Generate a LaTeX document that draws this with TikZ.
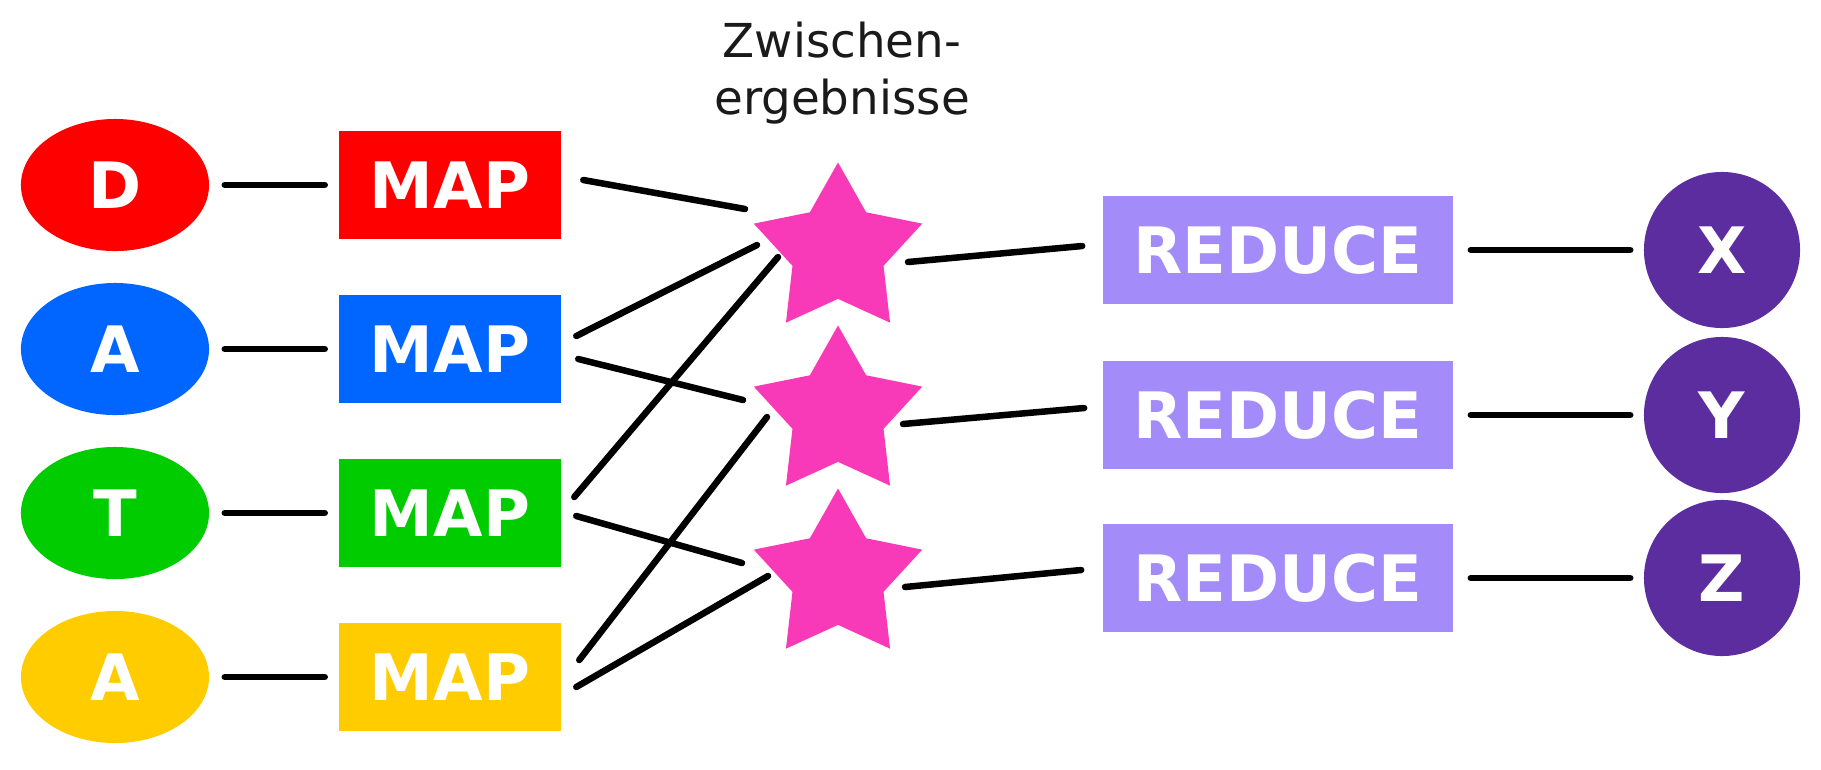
\documentclass[tikz,border=0pt]{standalone}
\usepackage{fontspec}
\newfontfamily\djs{DejaVu Sans}
\usetikzlibrary{shapes.geometric}
\definecolor{cRed}{HTML}{FF0000}
\definecolor{cBlue}{HTML}{0066FF}
\definecolor{cGreen}{HTML}{00CC00}
\definecolor{cYellow}{HTML}{FFCC00}
\definecolor{cStar}{HTML}{F93AB8}
\definecolor{cLav}{HTML}{A38CFA}
\definecolor{cPurp}{HTML}{5B2D9E}
\definecolor{cText}{HTML}{1A1A1A}
\begin{document}
\begin{tikzpicture}[x=0.01cm, y=-0.01cm,
  lab/.style={text=white, font=\djs\bfseries\fontsize{18.2}{20}\selectfont},
  inbox/.style={ellipse, lab, minimum width=1.88cm, minimum height=1.32cm, inner sep=0pt},
  mapbox/.style={rectangle, lab, minimum width=2.21cm, minimum height=1.07cm, inner sep=0pt},
  redbox/.style={rectangle, lab, fill=cLav, minimum width=3.5cm, minimum height=1.08cm, inner sep=0pt},
  outc/.style={circle, lab, fill=cPurp, minimum size=1.56cm, inner sep=0pt},
  inter/.style={star, star points=5, star point ratio=1.85, minimum size=1.77cm, fill=cStar, inner sep=0pt},
  conn/.style={draw=black, line width=0.065cm, line cap=round}
]
\useasboundingbox (0,0) rectangle (1821,769);

% inputs
\node[inbox, fill=cRed]    (d)  at (115,185) {D};
\node[inbox, fill=cBlue]   (a1) at (115,349) {A};
\node[inbox, fill=cGreen]  (t)  at (115,513) {T};
\node[inbox, fill=cYellow] (a2) at (115,677) {A};

% map
\node[mapbox, fill=cRed]    (m1) at (450,185) {MAP};
\node[mapbox, fill=cBlue]   (m2) at (450,349) {MAP};
\node[mapbox, fill=cGreen]  (m3) at (450,513) {MAP};
\node[mapbox, fill=cYellow] (m4) at (450,677) {MAP};

% intermediate results
\node[inter] (s1) at (838,251) {};
\node[inter] (s2) at (838,414) {};
\node[inter] (s3) at (838,577) {};
\node[font=\djs\fontsize{13.3}{16.3}\selectfont, text=cText, align=center] (lbl) at (842,73) {Zwischen-\\ergebnisse};

% reduce
\node[redbox] (r1) at (1278,250) {REDUCE};
\node[redbox] (r2) at (1278,415) {REDUCE};
\node[redbox] (r3) at (1278,578) {REDUCE};

% outputs
\node[outc] (x) at (1722,250) {X};
\node[outc] (y) at (1722,415) {Y};
\node[outc] (z) at (1722,578) {Z};

% input -> map
\foreach \a/\b in {d/m1, a1/m2, t/m3, a2/m4}
  \draw[conn, shorten <=0.15cm, shorten >=0.14cm] (\a) -- (\b);

% map -> stars
\draw[conn] ([shift={(22,-5)}]m1.east)  -- ([shift={(-93,-42)}]s1.center);
\draw[conn] ([shift={(15,-13)}]m2.east) -- ([shift={(-81,-6)}]s1.center);
\draw[conn] ([shift={(17,10)}]m2.east)  -- ([shift={(-95,-14)}]s2.center);
\draw[conn] ([shift={(13,-16)}]m3.east) -- ([shift={(-60,6)}]s1.center);
\draw[conn] ([shift={(15,3)}]m3.east)   -- ([shift={(-96,-14)}]s3.center);
\draw[conn] ([shift={(18,-17)}]m4.east) -- ([shift={(-71,3)}]s2.center);
\draw[conn] ([shift={(15,10)}]m4.east)  -- ([shift={(-70,-1)}]s3.center);

% stars -> reduce
\draw[conn] ([shift={(70,11)}]s1.center) -- ([shift={(-20,-4)}]r1.west);
\draw[conn] ([shift={(65,10)}]s2.center) -- ([shift={(-18,-7)}]r2.west);
\draw[conn] ([shift={(67,10)}]s3.center) -- ([shift={(-21,-8)}]r3.west);

% reduce -> outputs
\foreach \a/\b in {r1/x, r2/y, r3/z}
  \draw[conn, shorten <=0.17cm, shorten >=0.13cm] (\a) -- (\b);
\end{tikzpicture}
\end{document}
